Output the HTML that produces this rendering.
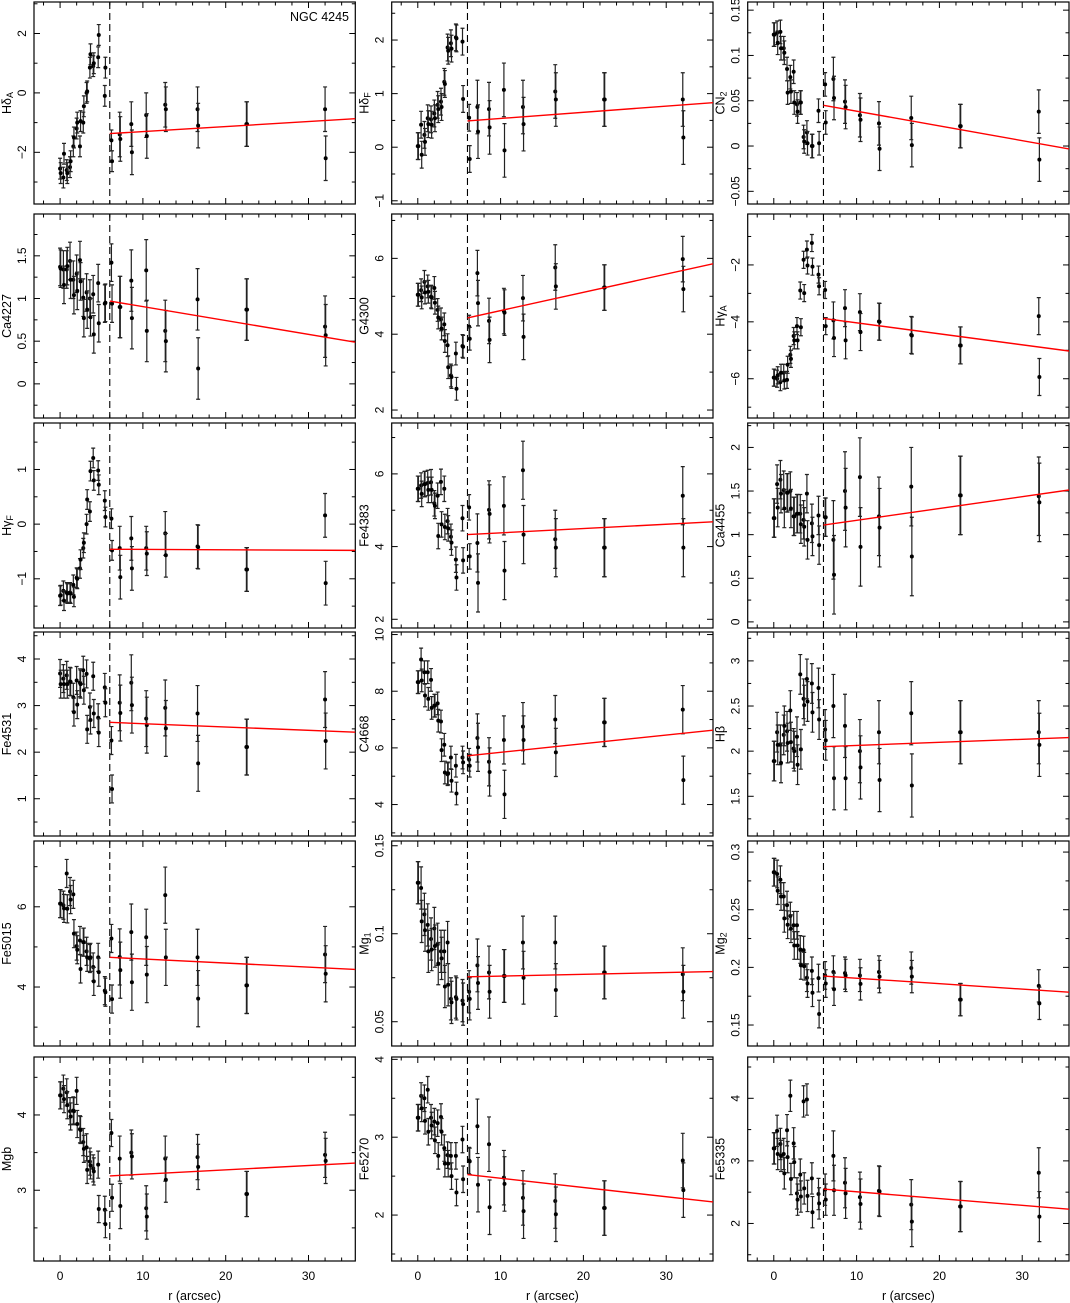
<!DOCTYPE html>
<html><head><meta charset="utf-8">
<style>
html,body{margin:0;padding:0;background:#fff;}
svg{display:block;font-family:"Liberation Sans",Arial,sans-serif;}
</style></head>
<body>
<svg id="fig" width="1070" height="1303" viewBox="0 0 1070 1303" xmlns="http://www.w3.org/2000/svg"></svg>
<script>
const radii = [0,0.4,0.8,1.2,1.6,2.0,2.4,2.8,3.2,3.6,4.0,4.6,5.4,6.2,7.2,8.6,10.4,12.7,16.6,22.5,32.0];
const panelNames = ["HdA","HdF","CN2","Ca4227","G4300","HgA","HgF","Fe4383","Ca4455","Fe4531","C4668","Hb","Fe5015","Mg1","Mg2","Mgb","Fe5270","Fe5335"];
const sideA = [
 [-2.55,-2.85,-2.6,-2.5,-1.8,-1.2,-1.8,-1.0,0,0.85,0.9,1.2,-0.1,-1.6,-1.4,-1.05,-0.75,-0.4,-0.55,-1.05,-0.55],
 [0.02,0.42,0.23,0.54,0.52,0.63,0.79,0.85,1.22,1.86,1.94,2.05,1.97,0.55,0.75,0.71,1.07,0.75,1.04,0.89,0.89],
 [0.123,0.125,0.126,0.108,0.085,0.076,0.082,0.046,0.048,0.01,0.015,0.0,0.039,0.068,0.074,0.049,0.034,0.025,0.031,0.022,0.038],
 [1.37,1.34,1.34,1.44,1.22,1.29,1.45,1.01,1.07,1.0,1.05,1.18,0.94,1.42,0.9,1.21,1.33,0.62,0.99,0.87,0.67],
 [5.04,5.16,5.38,5.26,4.99,5.22,4.64,4.39,4.26,3.71,2.91,3.49,3.69,4.2,5.61,4.35,4.61,4.95,5.76,5.23,5.98],
 [-5.96,-6.0,-6.12,-5.79,-6.04,-5.16,-4.5,-4.15,-2.9,-1.82,-1.46,-1.23,-2.34,-2.88,-3.95,-3.52,-3.66,-3.99,-4.46,-4.83,-3.8],
 [-1.31,-1.22,-1.25,-1.25,-1.11,-0.98,-0.81,-0.44,0,0.23,1.21,0.98,0.43,0.1,-0.44,-0.26,-0.44,-0.17,-0.41,-0.83,0.16],
 [5.59,5.68,5.72,5.75,5.77,5.19,5.4,5.78,5.59,4.7,4.27,3.64,4.78,5.08,4.1,5.01,5.12,6.1,4.2,3.97,5.4],
 [1.19,1.58,1.63,1.51,1.48,1.5,1.21,1.24,1.24,1.17,1.47,1.13,1.22,1.2,0.94,1.5,1.66,1.21,1.55,1.45,1.44],
 [3.69,3.58,3.65,3.52,3.18,3.54,3.49,3.76,3.68,2.97,3.63,2.74,3.39,2.25,3.06,3.49,2.72,2.95,2.83,2.11,3.13],
 [8.32,9.12,8.67,8.67,8.4,7.49,7.57,6.93,6.11,5.07,5.66,5.37,5.66,5.58,6.35,5.51,6.28,6.75,7.0,6.9,7.35],
 [1.89,2.21,2.07,2.18,2.22,2.45,2.03,2.16,2.85,2.58,2.8,2.75,2.7,2.24,2.5,2.28,2.0,2.21,2.42,2.21,2.21],
 [6.08,6.04,6.83,6.38,6.31,5.02,5.16,5.12,4.89,4.71,4.5,4.74,3.91,5.21,4.75,5.37,5.24,6.29,4.74,4.04,4.81],
 [0.129,0.126,0.111,0.105,0.097,0.103,0.094,0.09,0.09,0.095,0.063,0.064,0.062,0.067,0.082,0.078,0.076,0.095,0.095,0.078,0.077],
 [0.2825,0.281,0.276,0.2615,0.254,0.2445,0.2365,0.2365,0.2155,0.215,0.191,0.197,0.1907,0.193,0.196,0.195,0.193,0.196,0.1994,0.172,0.184],
 [4.26,4.35,4.3,4.05,4.06,4.32,3.81,3.64,3.57,3.38,3.29,3.34,2.74,3.76,3.42,3.5,2.76,3.42,3.44,2.95,3.47],
 [3.25,3.53,3.5,3.61,3.25,3.2,3.18,3.26,2.86,2.77,2.76,2.76,2.97,2.7,3.14,2.91,2.48,2.22,2.18,2.09,2.7],
 [3.2,3.48,3.27,3.11,3.49,4.04,3.28,2.48,2.78,3.95,3.98,2.72,2.47,2.54,3.08,2.65,2.42,2.52,2.3,2.27,2.81]
];
const sideB = [
 [-2.7,-2.05,-2.7,-2.3,-1.5,-1.0,-0.95,-0.45,0.05,1.3,1.0,1.95,0.85,-2.3,-1.55,-2.0,-1.45,-0.55,-1.1,-1.05,-2.2],
 [0.02,-0.14,0.1,0.43,0.42,0.54,0.71,0.75,1.18,1.8,1.84,2.03,0.9,-0.22,0.29,0.37,-0.06,0.43,0.89,0.89,0.18],
 [0.123,0.114,0.108,0.103,0.059,0.06,0.048,0.038,0.048,0.005,0.003,0.0,0.003,0.026,0.053,0.043,0.029,-0.003,0.001,0.022,-0.015],
 [1.35,1.16,1.38,1.22,1.04,1.09,1.2,0.77,0.87,0.78,0.58,0.71,0.95,0.94,0.9,0.77,0.62,0.5,0.18,0.87,0.57],
 [5.04,4.97,5.1,5.12,4.97,4.83,4.44,4.15,3.82,3.13,2.87,2.56,3.67,3.88,4.82,3.85,4.57,3.93,5.26,5.23,5.19],
 [-5.96,-5.88,-5.79,-6.06,-5.51,-5.3,-4.65,-4.65,-4.19,-2.99,-2.02,-2.06,-2.75,-4.15,-4.57,-4.65,-4.36,-4.0,-4.48,-4.83,-5.94],
 [-1.3,-1.4,-1.27,-1.27,-1.33,-1.0,-0.65,-0.34,0.45,0.97,0.8,0.72,0.13,-0.48,-0.97,-0.81,-0.54,-0.57,-0.42,-0.83,-1.08],
 [5.59,5.45,5.72,5.56,5.56,5.12,4.29,4.61,4.54,4.5,4.11,3.15,3.62,3.73,3.0,4.9,3.34,4.33,3.97,3.97,3.97],
 [1.19,1.31,1.47,1.3,1.48,1.3,1.21,1.24,1.12,1.09,0.94,0.98,0.88,1.2,0.54,1.31,0.86,1.08,0.75,1.45,1.37],
 [3.46,3.46,3.46,3.51,2.86,3.02,3.46,3.33,2.49,2.69,2.83,2.42,3.06,1.21,2.84,3.01,2.58,2.51,1.76,2.11,2.24],
 [8.32,8.38,7.85,7.73,7.41,7.49,6.96,5.92,5.13,5.1,4.84,4.39,5.49,5.37,6.02,5.15,4.36,6.28,5.84,6.9,4.86],
 [1.89,2.07,1.87,2.28,2.09,2.1,2.0,1.85,2.02,2.51,2.55,2.43,2.35,2.12,1.7,1.7,1.82,1.68,1.62,2.21,2.07],
 [6.08,5.96,5.95,6.18,5.33,4.93,4.45,5.12,4.74,4.74,4.14,4.37,3.87,3.7,4.42,4.12,4.31,4.74,3.71,4.04,4.33],
 [0.129,0.107,0.102,0.09,0.091,0.093,0.083,0.086,0.07,0.071,0.061,0.063,0.06,0.063,0.072,0.067,0.076,0.075,0.068,0.078,0.067],
 [0.2825,0.2665,0.2615,0.2425,0.237,0.2335,0.219,0.219,0.2017,0.201,0.186,0.178,0.1595,0.186,0.181,0.193,0.1857,0.192,0.192,0.172,0.1688],
 [4.26,4.21,4.13,3.98,4.05,3.88,3.8,3.55,3.27,3.33,3.25,2.75,2.55,2.9,2.79,3.45,2.65,3.14,3.31,2.95,3.39],
 [3.25,3.37,3.21,3.07,3.15,2.96,2.76,3.07,2.66,2.66,2.5,2.29,2.46,2.69,2.39,2.1,2.4,2.05,2.01,2.09,2.32],
 [3.2,3.11,3.08,2.8,3.06,2.71,2.98,2.38,2.43,2.56,2.44,2.18,2.32,2.38,2.53,2.48,2.31,2.51,2.03,2.27,2.11]
];
const errInner = [0.35,0.25,0.013,0.22,0.3,0.3,0.18,0.35,0.22,0.3,0.4,0.22,0.35,0.012,0.012,0.18,0.17,0.25];
const errOuter = [0.75,0.5,0.024,0.36,0.6,0.65,0.4,0.8,0.45,0.6,0.85,0.35,0.7,0.015,0.014,0.3,0.35,0.4];
const yMins = [-3.74,-1.06,-0.064,-0.40,1.79,-7.38,-1.9,1.76,-0.07,0.2,2.89,1.06,2.53,0.0362,0.1318,2.06,1.41,1.4];
const yMaxs = [3.06,2.71,0.159,1.99,7.17,-0.21,1.85,7.4,2.28,4.58,10.09,3.32,7.64,0.1527,0.3096,4.77,4.03,4.66];
const labelSteps = [2,1,0.05,0.5,2,2,1,2,0.5,1,2,0.5,2,0.05,0.05,1,1,1];
const fitAt6 = [-1.37,0.49,0.045,0.97,4.43,-3.88,-0.46,4.33,1.11,2.64,5.72,2.05,4.74,0.0755,0.1925,3.19,2.52,2.55];
const fitAtEnd = [-0.87,0.83,-0.003,0.49,5.85,-5.02,-0.48,4.68,1.51,2.43,6.62,2.15,4.44,0.0785,0.1785,3.36,2.17,2.23];
const xTickLabels = [0,10,20,30];
const titles = [["H\u03B4","A"],["H\u03B4","F"],["CN","2"],["Ca4227",""],["G4300",""],["H\u03B3","A"],["H\u03B3","F"],["Fe4383",""],["Ca4455",""],["Fe4531",""],["C4668",""],["H\u03B2",""],["Fe5015",""],["Mg","1"],["Mg","2"],["Mgb",""],["Fe5270",""],["Fe5335",""]];

const NS = "http://www.w3.org/2000/svg";
const svg = document.getElementById('fig');
const colLeft = [34, 391.7, 747.7];
const colW = 321.3;
const rowTop = [2, 214, 423, 632, 841, 1057];
const rowBot = [204, 418, 628, 836, 1046, 1261];
const xDom = [-3.15, 35.65];
function mk(tag, attrs, parent){ const e=document.createElementNS(NS,tag); for(const k in attrs) e.setAttribute(k,attrs[k]); (parent||svg).appendChild(e); return e; }
function fmt(v){ let s = (Math.abs(v)<1e-9)?"0":String(+v.toFixed(3)); return s.replace("-","\u2212"); }

for(let p=0;p<18;p++){
  const col=p%3, row=Math.floor(p/3);
  const L=colLeft[col], R=L+colW, T=rowTop[row], B=rowBot[row];
  const xs = r => L + (r - xDom[0])/(xDom[1]-xDom[0])*(R-L);
  const ys = v => B - (v - yMins[p])/(yMaxs[p]-yMins[p])*(B-T);
  const g = mk('g',{});
  
  
  // clip
  const cp = mk('clipPath',{id:'c'+p},g); mk('rect',{x:L,y:T,width:R-L,height:B-T},cp);
  // frame
  const fr = mk('rect',{x:L,y:T,width:R-L,height:B-T,fill:'none',stroke:'#000','stroke-width':1.2},g);
  
  
  // x ticks
  for(let r=-2;r<=34;r+=2){
    const x=xs(r), len=(r%10===0)?6:3.5;
    mk('line',{x1:x,x2:x,y1:B,y2:B-len,stroke:'#000','stroke-width':1},g);
    mk('line',{x1:x,x2:x,y1:T,y2:T+len,stroke:'#000','stroke-width':1},g);
  }
  // y ticks
  const st=labelSteps[p], minor=st/2;
  const k0=Math.ceil(yMins[p]/minor-1e-6), k1=Math.floor(yMaxs[p]/minor+1e-6);
  for(let k=k0;k<=k1;k++){
    const v=k*minor, y=ys(v), isMaj=(k%2===0), len=isMaj?6:3.5;
    mk('line',{x1:L,x2:L+len,y1:y,y2:y,stroke:'#000','stroke-width':1},g);
    mk('line',{x1:R,x2:R-len,y1:y,y2:y,stroke:'#000','stroke-width':1},g);
    if(isMaj){
      const lx=L-12;
      const t=mk('text',{x:lx,y:y,'font-size':12,'text-anchor':'middle','dominant-baseline':'central',transform:`rotate(-90 ${lx} ${y})`},g);
      t.textContent=fmt(v);
      
      
    }
  }
  // y title
  const tx=L-27, ty=(T+B)/2;
  const tt=mk('text',{x:tx,y:ty,'font-size':12.5,'text-anchor':'middle','dominant-baseline':'central',transform:`rotate(-90 ${tx} ${ty})`},g);
  
  
  tt.appendChild(document.createTextNode(titles[p][0]));
  if(titles[p][1]){ const sb=mk('tspan',{'font-size':9,dy:3},tt); sb.textContent=titles[p][1]; }
  // dashed line
  const dl=mk('line',{x1:xs(6),x2:xs(6),y1:T,y2:B,stroke:'#000','stroke-width':1.1,'stroke-dasharray':'7,4'},g);
  
  
  // data
  const dg=mk('g',{'clip-path':`url(#c${p})`},g);
  [sideA[p],sideB[p]].forEach((arr,si)=>{
    arr.forEach((v,i)=>{
      const r=radii[i], e=(r>6.5)?errOuter[p]:errInner[p];
      const x=xs(r)+(si?0.6:0), y1=ys(v+e), y2=ys(v-e);
      const eb=mk('path',{d:`M${x},${y1}V${y2}M${x-2},${y1}H${x+2}M${x-2},${y2}H${x+2}`,stroke:'#222','stroke-width':1.2,fill:'none'},dg);
      
      
      const c=mk('circle',{cx:x,cy:ys(v),r:2,fill:'#000'},dg);
      
      
    });
  });
  // fit line
  const slope=(fitAtEnd[p]-fitAt6[p])/(35.5-6);
  const fl=mk('line',{x1:xs(6),y1:ys(fitAt6[p]),x2:R,y2:ys(fitAt6[p]+slope*(xDom[1]-6)),stroke:'#f00','stroke-width':1.4},dg);
  
  
}
// x tick labels and titles
for(let col=0;col<3;col++){
  const L=colLeft[col], R=L+colW;
  const xs = r => L + (r - xDom[0])/(xDom[1]-xDom[0])*(R-L);
  xTickLabels.forEach(v=>{
    const t=mk('text',{x:xs(v),y:1280,'font-size':12,'text-anchor':'middle'});
    t.textContent=String(v);
    
    
  });
  const xt=mk('text',{x:(L+R)/2,y:1300,'font-size':12.5,'text-anchor':'middle'});
  xt.textContent='r (arcsec)';
  
  
}
const gt=mk('text',{x:349,y:21,'font-size':12.5,'text-anchor':'end'});
gt.textContent='NGC 4245';


</script>
</body></html>
